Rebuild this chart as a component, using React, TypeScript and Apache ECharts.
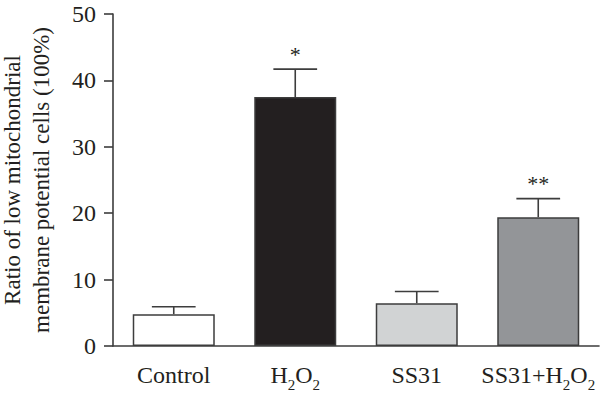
import React, { useEffect, useRef } from "react";
import * as echarts from "echarts";

const categories = ["Control", "H2O2", "SS31", "SS31+H2O2"];
const means = [4.8, 37.5, 6.45, 19.4];
const upperErrors = [5.9, 41.7, 8.2, 22.2];
const significance = ["", "*", "", "**"];
const barColors = ["#ffffff", "#231f20", "#d1d3d4", "#939598"];
const yTicks = [0, 10, 20, 30, 40, 50];
const yAxisTitle = "Ratio of low mitochondrial\nmembrane potential cells (100%)";

const FONT = "'Liberation Serif', 'Times New Roman', serif";
const TEXT = "#231f20";
const LINE = "#3d3d3d";

function richLabel(name: string): string {
  const body = name.replace(/([HO])2/g, "$1}{s|2}{a|");
  return "{a|" + body + "}";
}

export default function App() {
  const ref = useRef<HTMLDivElement>(null);

  useEffect(() => {
    document.body.style.margin = "0";
    if (!ref.current) return;
    const chart = echarts.init(ref.current, undefined, { renderer: "svg" });

    const barData = means.map((v, i) => ({
      value: v,
      itemStyle: { color: barColors[i] },
    }));
    const errData = means.map((v, i) => [i, v, upperErrors[i]]);

    const option: any = {
      animation: false,
      grid: { left: 113, right: 1, top: 14, bottom: 51, containLabel: false, outerBoundsMode: "none" },
      xAxis: {
        type: "category",
        data: categories,
        axisLine: { lineStyle: { color: LINE, width: 1.6 } },
        axisTick: { alignWithLabel: true, length: 8, lineStyle: { color: LINE, width: 1.6 } },
        axisLabel: {
          interval: 0,
          margin: 11,
          formatter: (v: string) => richLabel(v),
          rich: {
            a: { fontSize: 24, fontFamily: FONT, color: TEXT, lineHeight: 36 },
            s: { fontSize: 15, fontFamily: FONT, color: TEXT, padding: [20, 0, 0, 0] },
          },
        },
      },
      yAxis: {
        type: "value",
        min: yTicks[0],
        max: yTicks[yTicks.length - 1],
        interval: yTicks[1] - yTicks[0],
        splitLine: { show: false },
        axisLine: { show: true, lineStyle: { color: LINE, width: 1.6 } },
        axisTick: { show: true, length: 9, lineStyle: { color: LINE, width: 1.6 } },
        axisLabel: { margin: 17, fontSize: 24, fontFamily: FONT, color: TEXT },
        name: yAxisTitle,
        nameLocation: "middle",
        nameGap: 57,
        nameTextStyle: { fontSize: 23, fontFamily: FONT, color: TEXT, lineHeight: 29 },
      },
      series: [
        {
          type: "bar",
          data: barData,
          barWidth: 82,
          itemStyle: { borderColor: LINE, borderWidth: 1.5 },
          z: 2,
        },
        {
          type: "custom",
          data: errData,
          z: 3,
          renderItem: (params: any, api: any) => {
            const i = api.value(0);
            const base = api.coord([i, api.value(1)]);
            const top = api.coord([i, api.value(2)]);
            const capHalf = api.size([1, 0])[0] * 0.18;
            const st = { stroke: LINE, lineWidth: 1.6 };
            const children: any[] = [
              { type: "line", shape: { x1: base[0], y1: base[1], x2: top[0], y2: top[1] }, style: st },
              { type: "line", shape: { x1: top[0] - capHalf, y1: top[1], x2: top[0] + capHalf, y2: top[1] }, style: st },
            ];
            const mark = significance[params.dataIndex];
            if (mark) {
              children.push({
                type: "text",
                style: {
                  text: mark,
                  x: top[0],
                  y: top[1] - 15,
                  align: "center",
                  verticalAlign: "middle",
                  font: "22px " + FONT,
                  fill: TEXT,
                },
              });
            }
            return { type: "group", children };
          },
        },
      ],
    };
    chart.setOption(option);
    return () => chart.dispose();
  }, []);

  return <div ref={ref} style={{ width: 600, height: 397, position: "absolute", left: 0, top: 0 }} />;
}
